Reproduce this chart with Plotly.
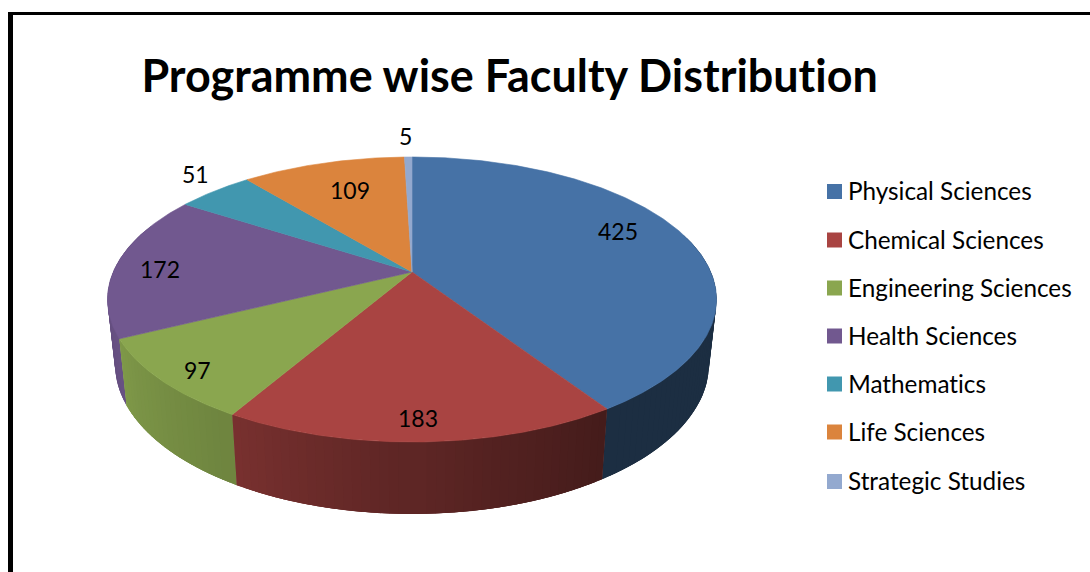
import numpy as np
import plotly.graph_objects as go

CATEGORIES = ["Physical Sciences", "Chemical Sciences", "Engineering Sciences",
              "Health Sciences", "Mathematics", "Life Sciences", "Strategic Studies"]
VALUES = [425, 183, 97, 172, 51, 109, 5]
TITLE = "Programme wise Faculty Distribution"

COLORS = ["#4672A6", "#A94442", "#8AA64F", "#71588F", "#4197AF", "#DB843D", "#93A9CF"]
LABEL_X = [618, 418, 197, 160, 195, 350, 405]
LABEL_Y = [231, 418, 370, 269, 174, 190, 136]
LEG_Y = [191.5, 240, 288, 336, 384, 432, 481.5]
FONT = "Lato, Carlito, Calibri, sans-serif"

# projection of the tilted disc (perspective)
CX, CY, A, B, P = 412.0, 272.0, 298.8, 137.2, 0.193
BOT_SX, BOT_SY, BOT_Y = 0.975, 1.05, 335.5


def top(theta, r=1.0):
    u, v = r * np.sin(theta), r * np.cos(theta)
    w = 1 + P * v
    return CX + A * u / w, CY - B * v / w


def bottom(theta):
    u, v = np.sin(theta), np.cos(theta)
    w = 1 + P * v
    return CX + BOT_SX * A * u / w, BOT_Y - BOT_SY * B * v / w


def shade(hex_color, f):
    rgb = [int(hex_color[i:i + 2], 16) for i in (1, 3, 5)]
    return "rgb(%d,%d,%d)" % tuple(int(round(c * f)) for c in rgb)


def wall_factor(deg):
    # side-wall lighting: dark on the right, lighter to the left
    return float(np.interp(deg, [90, 147, 170, 210, 210.1, 243, 275],
                           [0.40, 0.40, 0.50, 0.72, 0.80, 0.92, 0.82]))


fig = go.Figure()
edges = np.cumsum([0] + VALUES) / sum(VALUES) * 360.0

# side walls, back to front; each strip overlaps the next inside its slice so no seams show
STEP = 1.5
strips = []
for i in range(len(VALUES)):
    a0, a1 = edges[i], edges[i + 1]
    n = max(1, int(np.ceil((a1 - a0) / STEP)))
    grid = np.linspace(a0, a1, n + 1)
    for s, e in zip(grid[:-1], grid[1:]):
        mid = (s + e) / 2
        if 75 < mid < 290:
            strips.append((s, e, i, a0, a1))
# paint in sweep order from both silhouettes toward the front
strips.sort(key=lambda t: -np.cos(np.radians((t[0] + t[1]) / 2)))
for s, e, i, a0, a1 in strips:
    mid = (s + e) / 2
    th = np.radians(np.linspace(max(a0, s - STEP), min(a1, e + STEP), 5))
    tx, ty = top(th)
    bx, by = bottom(th)
    col = shade(COLORS[i], wall_factor(mid))
    fig.add_trace(go.Scatter(
        x=[*tx, *bx[::-1], tx[0]], y=[*ty, *by[::-1], ty[0]],
        mode="lines", fill="toself", fillcolor=col, line=dict(width=0),
        hoverinfo="skip", showlegend=False))

# top face
for i in range(len(VALUES)):
    th = np.radians(np.linspace(edges[i], edges[i + 1], max(3, int(edges[i + 1] - edges[i]) * 2)))
    ax, ay = top(th)
    fig.add_trace(go.Scatter(
        x=[CX, *ax, CX], y=[CY, *ay, CY], mode="lines", fill="toself",
        fillcolor=COLORS[i], line=dict(color=COLORS[i], width=0.6),
        name=CATEGORIES[i], text=[str(VALUES[i])], hoverinfo="name", showlegend=False))

# legend swatches
fig.add_trace(go.Scatter(
    x=[834.5] * len(CATEGORIES), y=LEG_Y, mode="markers",
    marker=dict(symbol="square", size=15, color=COLORS, line=dict(width=0)),
    hoverinfo="skip", showlegend=False))

annotations = []
for v, x, y in zip(VALUES, LABEL_X, LABEL_Y):
    annotations.append(dict(x=x, y=y, text=str(v), showarrow=False, xanchor="center", yanchor="middle",
                            font=dict(family=FONT, size=23, color="#000000")))
for c, y in zip(CATEGORIES, LEG_Y):
    annotations.append(dict(x=846, y=y, text=c, showarrow=False, xanchor="left", yanchor="middle",
                            yshift=1, font=dict(family=FONT, size=24.3, color="#000000")))
annotations.append(dict(x=509, y=75, text="<b>%s</b>" % TITLE, showarrow=False, xanchor="center",
                        yanchor="middle", font=dict(family=FONT, size=44.9, color="#000000")))

frame = [
    dict(type="rect", xref="x", yref="y", x0=8, x1=13, y0=12, y1=572, fillcolor="#000000", line_width=0),
    dict(type="rect", xref="x", yref="y", x0=8, x1=1090, y0=12, y1=15, fillcolor="#000000", line_width=0),
]

fig.update_layout(
    width=1090, height=572, margin=dict(l=0, r=0, t=0, b=0),
    paper_bgcolor="#FFFFFF", plot_bgcolor="#FFFFFF", showlegend=False,
    xaxis=dict(range=[0, 1090], visible=False, fixedrange=True),
    yaxis=dict(range=[572, 0], visible=False, fixedrange=True),
    annotations=annotations, shapes=frame,
)
fig.write_html("out.html", config={"displayModeBar": False},
               post_script="document.body.style.margin='0';"
                           "var s=document.createElement('style');"
                           "s.textContent='svg text{font-variant-ligatures:none;font-feature-settings:\"liga\" 0}';"
                           "document.head.appendChild(s);")
